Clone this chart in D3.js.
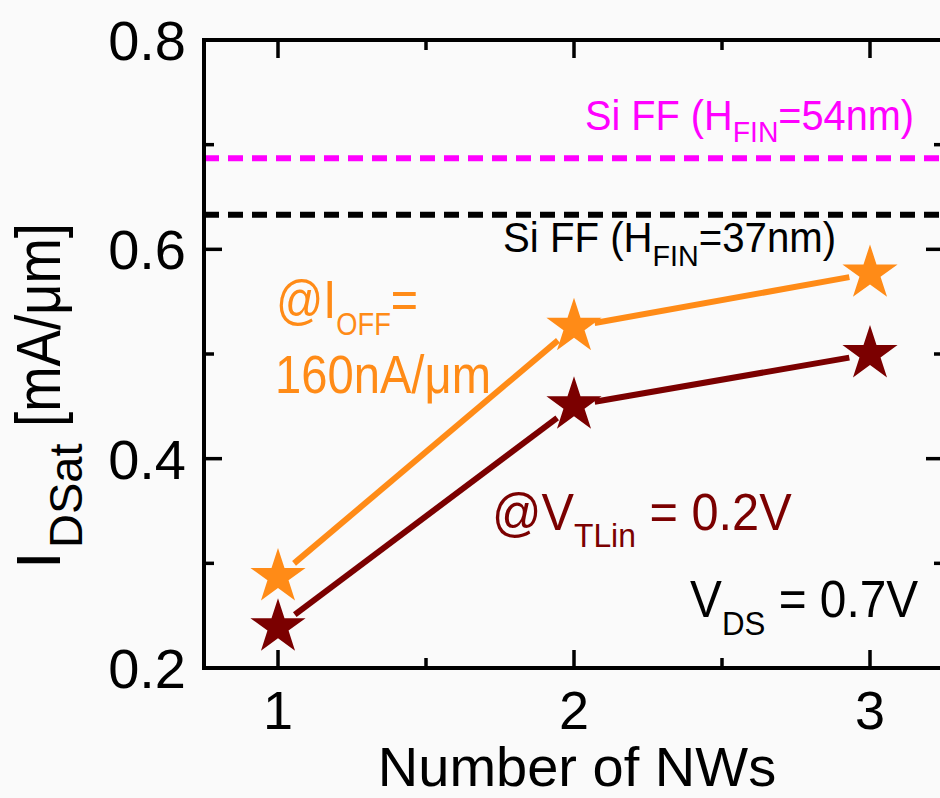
<!DOCTYPE html>
<html>
<head>
<meta charset="utf-8">
<script src="https://cdn.jsdelivr.net/npm/d3@7"></script>
<style>
  html, body { margin: 0; padding: 0; background: #fafafa; }
  svg { display: block; font-family: "Liberation Sans", Arial, sans-serif; }
</style>
</head>
<body>
<svg id="chart" width="940" height="798"></svg>
<script>
// Number of nanowires on the x axis
const nwCounts = [1, 2, 3];
// Saturation current (mA/um) at fixed I_OFF = 160 nA/um
const idsatIoff = [0.287, 0.526, 0.577];
// Saturation current (mA/um) at fixed V_TLin = 0.2 V
const idsatVt = [0.239, 0.451, 0.500];
// Si FinFET reference levels (mA/um)
const refFin54 = 0.687;
const refFin37 = 0.633;
// Tick values
const xMajorTicks = [1, 2, 3];
const xMinorTicks = [1.5, 2.5];
const yMajorTicks = [0.2, 0.4, 0.6, 0.8];
const yMinorTicks = [0.3, 0.5, 0.7];

const svg = d3.select("#chart");

const x = d3.scaleLinear().domain([0.75, 3.25]).range([204, 944]);
const y = d3.scaleLinear().domain([0.2, 0.8]).range([668, 40]);

const ORANGE = "#ff8b17";
const DARKRED = "#7b0000";
const MAGENTA = "#ff00ff";

const plot = svg.append("g");

// reference dashed lines
[[refFin54, MAGENTA], [refFin37, "#000"]].forEach(([v, c]) => {
  plot.append("line")
    .attr("x1", x.range()[0]).attr("x2", x.range()[1])
    .attr("y1", y(v)).attr("y2", y(v))
    .attr("stroke", c).attr("stroke-width", 6)
    .attr("stroke-dasharray", "15 9");
});

// series lines, leaving a gap around each symbol
function gappedSegments(xs, ys, gap) {
  const segs = [];
  for (let i = 0; i < xs.length - 1; i++) {
    const x0 = x(xs[i]), y0 = y(ys[i]), x1 = x(xs[i + 1]), y1 = y(ys[i + 1]);
    const dx = x1 - x0, dy = y1 - y0, L = Math.hypot(dx, dy);
    const ux = dx / L, uy = dy / L;
    segs.push([x0 + ux * gap, y0 + uy * gap, x1 - ux * gap, y1 - uy * gap]);
  }
  return segs;
}

const series = [
  { vals: idsatIoff, color: ORANGE },
  { vals: idsatVt, color: DARKRED }
];

series.forEach(s => {
  plot.selectAll(null)
    .data(gappedSegments(nwCounts, s.vals, 21))
    .join("line")
    .attr("x1", d => d[0]).attr("y1", d => d[1])
    .attr("x2", d => d[2]).attr("y2", d => d[3])
    .attr("stroke", s.color).attr("stroke-width", 6);
});

const starR = 29;
const star = d3.symbol().type(d3.symbolStar).size(starR * starR / 0.8908130915292852);
series.forEach(s => {
  plot.selectAll(null)
    .data(nwCounts.map((n, i) => [n, s.vals[i]]))
    .join("path")
    .attr("d", star)
    .attr("transform", d => `translate(${x(d[0])},${y(d[1])})`)
    .attr("fill", s.color);
});

// frame + inward ticks on all four sides
const tickMaj = 18, tickMin = 10;
const [xl, xr] = x.range();
const [yb, yt] = y.range();
const ax = svg.append("g").attr("stroke", "#000").attr("stroke-width", 3.5);
ax.append("rect")
  .attr("x", xl).attr("y", yt).attr("width", xr - xl).attr("height", yb - yt)
  .attr("fill", "none").attr("stroke-width", 4);

function ticksX(vals, len) {
  vals.forEach(v => {
    ax.append("line").attr("x1", x(v)).attr("x2", x(v)).attr("y1", yb).attr("y2", yb - len);
    ax.append("line").attr("x1", x(v)).attr("x2", x(v)).attr("y1", yt).attr("y2", yt + len);
  });
}
function ticksY(vals, len) {
  vals.forEach(v => {
    ax.append("line").attr("y1", y(v)).attr("y2", y(v)).attr("x1", xl).attr("x2", xl + len);
    ax.append("line").attr("y1", y(v)).attr("y2", y(v)).attr("x1", xr).attr("x2", xr - len);
  });
}
ticksX(xMajorTicks, tickMaj);
ticksX(xMinorTicks, tickMin);
ticksY(yMajorTicks, tickMaj);
ticksY(yMinorTicks, tickMin);

// tick labels
const lab = svg.append("g").attr("fill", "#000");
lab.selectAll(null).data(yMajorTicks).join("text")
  .attr("x", xl - 18).attr("y", d => y(d)).attr("dy", "0.36em")
  .attr("text-anchor", "end").attr("font-size", 56)
  .text(d => d.toFixed(1));
lab.selectAll(null).data(xMajorTicks).join("text")
  .attr("x", d => x(d)).attr("y", 729)
  .attr("text-anchor", "middle").attr("font-size", 54)
  .text(d => d);

// x axis title
lab.append("text")
  .attr("x", 577).attr("y", 786)
  .attr("text-anchor", "middle").attr("font-size", 56)
  .text("Number of NWs");

// y axis title, rotated: local x runs upward along the screen
const yTitle = lab.append("g").attr("transform", "translate(60,0) rotate(-90)");
yTitle.append("text").attr("x", -569).attr("y", 0).attr("font-size", 63).text("I");
yTitle.append("text").attr("x", -548).attr("y", 22).attr("font-size", 47).text("DSat");
yTitle.append("text").attr("x", -427).attr("y", 0).attr("font-size", 63)
  .attr("textLength", 204).attr("lengthAdjust", "spacingAndGlyphs")
  .text("[mA/\u03bcm]");

// annotations with subscripts, slightly condensed horizontally
function subText(xPos, yPos, sx, color, size, subSize, subDy, parts) {
  const g = svg.append("g").attr("transform", `translate(${xPos},${yPos}) scale(${sx},1)`);
  const t = g.append("text").attr("x", 0).attr("y", 0)
    .attr("fill", color).attr("font-size", size);
  let shift = 0;
  parts.forEach(p => {
    const ts = t.append("tspan").text(p.t);
    if (p.sub) {
      ts.attr("font-size", subSize).attr("dy", subDy - shift);
      shift = subDy;
    } else {
      ts.attr("dy", -shift);
      shift = 0;
    }
  });
  return t;
}

subText(585, 130, 0.945, MAGENTA, 42, 30, 12,
  [{ t: "Si FF (H" }, { t: "FIN", sub: true }, { t: "=54nm)" }]);
subText(503, 252, 0.957, "#000", 42, 30, 14,
  [{ t: "Si FF (H" }, { t: "FIN", sub: true }, { t: "=37nm)" }]);
subText(276, 318, 0.88, ORANGE, 53, 31, 17,
  [{ t: "@I" }, { t: "OFF", sub: true }, { t: "=" }]);
subText(275, 393, 0.89, ORANGE, 53, 31, 0,
  [{ t: "160nA/\u03bcm" }]);
subText(492, 530, 0.937, DARKRED, 52, 34, 17,
  [{ t: "@V" }, { t: "TLin", sub: true }, { t: " = 0.2V" }]);
subText(690, 617, 0.92, "#000", 52, 34, 18,
  [{ t: "V" }, { t: "DS", sub: true }, { t: " = 0.7V" }]);
</script>
</body>
</html>
